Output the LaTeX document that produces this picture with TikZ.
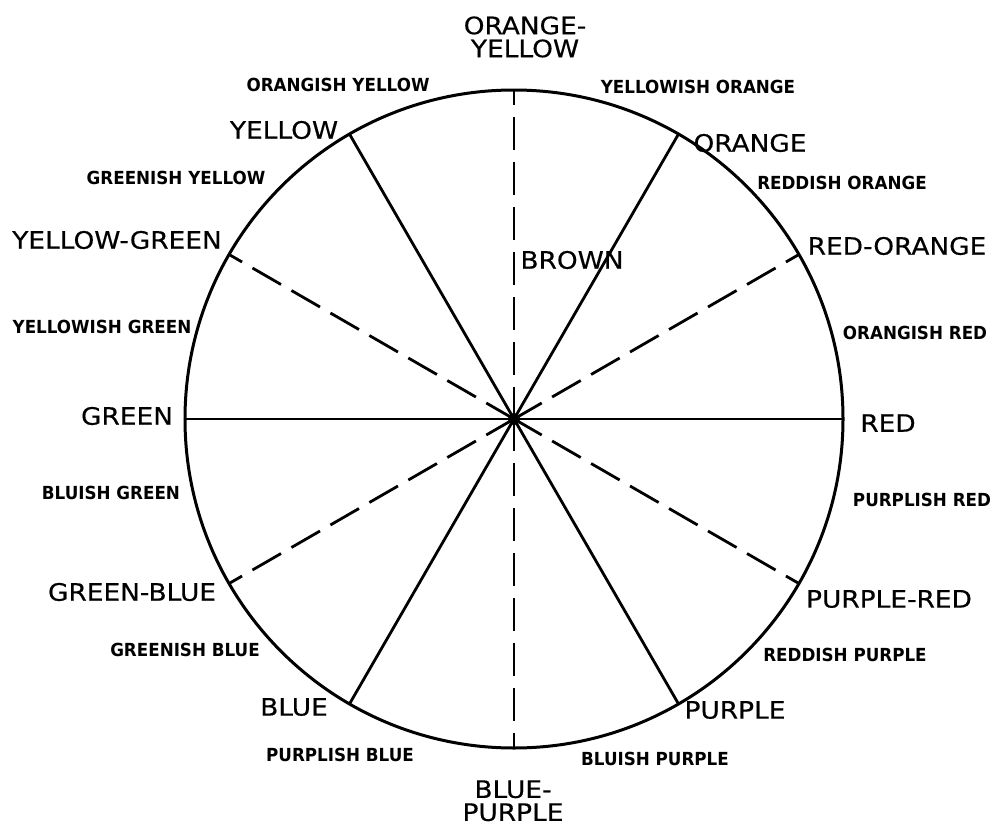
\documentclass[tikz,border=0pt]{standalone}
\usepackage{fontspec}
\newfontfamily\huefont[FakeStretch=1.1, FakeBold=0.4]{DejaVu Sans}
\newfontfamily\tintfont[FakeStretch=0.93]{DejaVu Sans}
\tikzset{
  hue/.style={font=\huefont\fontsize{12}{11.5}\selectfont, inner sep=0pt, align=center},
  tint/.style={font=\tintfont\bfseries\fontsize{9}{10}\selectfont, inner sep=0pt},
  rim/.style={line width=1.5pt},
  spoke/.style={line width=1.4pt, line cap=round},
  halfspoke/.style={line width=1.4pt, dash pattern=on 16.5pt off 6pt, dash phase=9pt},
}
\begin{document}
\begin{tikzpicture}[x=0.5pt, y=0.5pt]
\useasboundingbox (0,0) rectangle (1001,827);

% wheel
\coordinate (c) at (514,408);
\draw[rim] (c) circle[radius=329];
\foreach \a in {0,30,...,330}
  \path (c) ++(\a:329) coordinate (r\a);
\foreach \a/\b in {0/180,60/240,120/300}
  \draw[spoke] (r\a) -- (r\b);
\foreach \a in {30,90,150,210,270,330}
  \draw[halfspoke] (r\a) -- (c);
\fill (c) circle[radius=6];

% principal hues
\node[hue, anchor=north] (orangeyellow) at (525,811) {ORANGE-\\YELLOW};
\node[hue] (orange) at (750,684) {ORANGE};
\node[hue] (redorange) at (897,581) {RED-ORANGE};
\node[hue] (red) at (888,404) {RED};
\node[hue] (purplered) at (889,228) {PURPLE-RED};
\node[hue] (purple) at (735,117) {PURPLE};
\node[hue, anchor=north] (bluepurple) at (513,47) {BLUE-\\PURPLE};
\node[hue] (blue) at (294,120) {BLUE};
\node[hue] (greenblue) at (132,235) {GREEN-BLUE};
\node[hue] (green) at (127,411) {GREEN};
\node[hue] (yellowgreen) at (117,587) {YELLOW-GREEN};
\node[hue] (yellow) at (284,697) {YELLOW};
\node[hue] (brown) at (572,567) {BROWN};

% intermediate hues
\node[tint] (yellowishorange) at (698,740) {YELLOWISH ORANGE};
\node[tint] (reddishorange) at (842,644) {REDDISH ORANGE};
\node[tint] (orangishred) at (915,494) {ORANGISH RED};
\node[tint] (purplishred) at (922,327) {PURPLISH RED};
\node[tint] (reddishpurple) at (845,172) {REDDISH PURPLE};
\node[tint] (bluishpurple) at (655,68) {BLUISH PURPLE};
\node[tint] (purplishblue) at (340,72) {PURPLISH BLUE};
\node[tint] (greenishblue) at (185,177) {GREENISH BLUE};
\node[tint] (bluishgreen) at (111,334) {BLUISH GREEN};
\node[tint] (yellowishgreen) at (102,500) {YELLOWISH GREEN};
\node[tint] (greenishyellow) at (176,649) {GREENISH YELLOW};
\node[tint] (orangishyellow) at (338,742) {ORANGISH YELLOW};

\end{tikzpicture}
\end{document}
